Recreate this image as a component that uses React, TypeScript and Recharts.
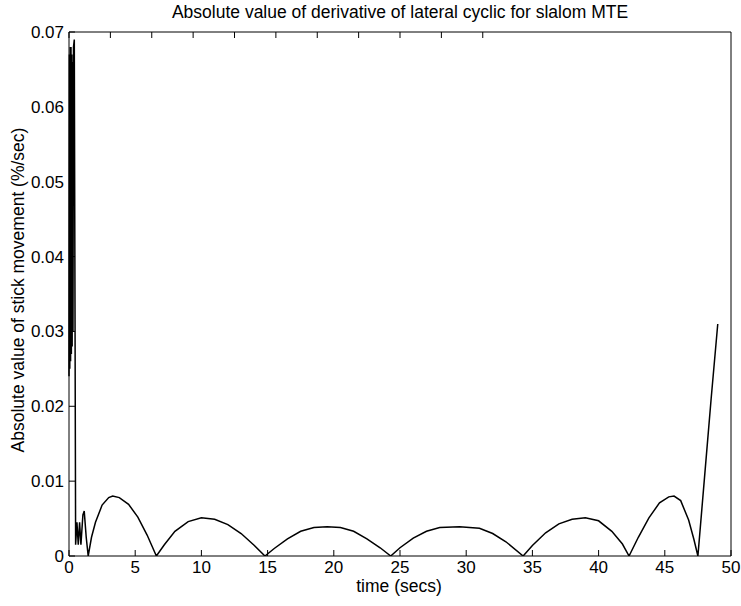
import { Line, LineChart, XAxis, YAxis } from "recharts";

// time (secs) and |d(lateral cyclic)/dt|
const timeSecs = [
  0, 0.03, 0.06, 0.09, 0.12, 0.15, 0.18, 0.21, 0.24, 0.27, 0.3, 0.34, 0.4,
  0.5, 0.6, 0.7, 0.8, 0.9, 1.05, 1.15, 1.3, 1.45,
  1.7, 2.0, 2.5, 3.0, 3.3, 3.8, 4.5, 5.2, 5.9, 6.6,
  7.2, 8, 9, 10, 11, 12, 13, 14, 14.8,
  15.5, 16.5, 17.5, 18.5, 19.5, 20.5, 21.5, 22.5, 23.5, 24.3,
  25, 26, 27, 28, 29.5, 31, 32, 33, 34.3,
  35, 36, 37, 38, 39, 40, 41, 41.8, 42.3,
  43, 43.8, 44.6, 45.3, 45.7, 46.2, 46.8, 47.2, 47.5,
  48, 48.5, 49,
];
const stickRate = [
  0.024, 0.067, 0.025, 0.068, 0.026, 0.068, 0.027, 0.067, 0.028, 0.066, 0.03, 0.068, 0.069,
  0.0015, 0.0045, 0.0015, 0.0045, 0.0015, 0.0055, 0.006, 0.0025, 0,
  0.0025, 0.0045, 0.0068, 0.0078, 0.008, 0.0078, 0.0069, 0.0052, 0.0028, 0,
  0.0015, 0.0033, 0.0046, 0.0051, 0.0049, 0.0042, 0.003, 0.0014, 0,
  0.001, 0.0023, 0.0033, 0.0038, 0.0039, 0.0038, 0.0033, 0.0023, 0.0011, 0,
  0.0011, 0.0024, 0.0033, 0.0038, 0.0039, 0.0037, 0.003, 0.0019, 0,
  0.0014, 0.0031, 0.0043, 0.0049, 0.0051, 0.0047, 0.0033, 0.0016, 0,
  0.0025, 0.0051, 0.0071, 0.0079, 0.008, 0.0074, 0.0048, 0.0022, 0,
  0.0105, 0.021, 0.031,
];
const xTicks = [0, 5, 10, 15, 20, 25, 30, 35, 40, 45, 50];
const yTicks = [0, 0.01, 0.02, 0.03, 0.04, 0.05, 0.06, 0.07];

const data = timeSecs.map((t, i) => ({ t, v: stickRate[i] }));

const font = "'Liberation Sans', Arial, sans-serif";

const BottomTick = (props: any) => {
  const { x, y, payload } = props;
  return (
    <g>
      <line x1={x} y1={y} x2={x} y2={y - 6} stroke="#000" />
      <text x={x} y={y + 5} dy="0.71em" textAnchor="middle" fontSize={17} fontFamily={font} fill="#000">
        {payload.value}
      </text>
    </g>
  );
};

const TopTick = (props: any) => {
  const { x, y } = props;
  return <line x1={x} y1={y} x2={x} y2={y + 6} stroke="#000" />;
};

const LeftTick = (props: any) => {
  const { x, y, payload } = props;
  const label = payload.value === 0 ? "0" : Number(payload.value).toFixed(2);
  return (
    <g>
      <line x1={x} y1={y} x2={x + 6} y2={y} stroke="#000" />
      <text x={x - 5} y={y} dy="0.35em" textAnchor="end" fontSize={17} fontFamily={font} fill="#000">
        {label}
      </text>
    </g>
  );
};

const RightTick = (props: any) => {
  const { x, y } = props;
  return <line x1={x} y1={y} x2={x - 6} y2={y} stroke="#000" />;
};

export default function App() {
  return (
    <div style={{ position: "relative", width: 741, height: 606, background: "#fff" }}>
      <style>{`html, body { margin: 0; padding: 0; overflow: hidden; }`}</style>
      <LineChart
        width={741}
        height={606}
        data={data}
        margin={{ top: 31, right: 9, bottom: 20, left: 0 }}
      >
        <XAxis
          dataKey="t"
          type="number"
          domain={[0, 50]}
          ticks={xTicks}
          interval={0}
          height={30}
          tickSize={0}
          tickMargin={0}
          tickLine={false}
          axisLine={{ stroke: "#000" }}
          tick={<BottomTick />}
        />
        <XAxis
          xAxisId="top"
          orientation="top"
          type="number"
          domain={[0, 50]}
          ticks={xTicks}
          interval={0}
          height={1}
          tickSize={0}
          tickMargin={0}
          tickLine={false}
          axisLine={{ stroke: "#000" }}
          tick={<TopTick />}
        />
        <YAxis
          type="number"
          domain={[0, 0.07]}
          ticks={yTicks}
          interval={0}
          width={69}
          tickSize={0}
          tickMargin={0}
          tickLine={false}
          axisLine={{ stroke: "#000" }}
          tick={<LeftTick />}
          allowDataOverflow
        />
        <YAxis
          yAxisId="right"
          orientation="right"
          type="number"
          domain={[0, 0.07]}
          ticks={yTicks}
          interval={0}
          width={1}
          tickSize={0}
          tickMargin={0}
          tickLine={false}
          axisLine={{ stroke: "#000" }}
          tick={<RightTick />}
        />
        <Line
          dataKey="v"
          type="linear"
          stroke="#000"
          strokeWidth={1.5}
          dot={false}
          isAnimationActive={false}
        />
      </LineChart>
      <div
        style={{
          position: "absolute",
          left: 100,
          width: 600,
          top: 3,
          textAlign: "center",
          fontFamily: font,
          fontSize: 17.5,
          lineHeight: "18px",
          whiteSpace: "nowrap",
          zIndex: 2,
        }}
      >
        Absolute value of derivative of lateral cyclic for slalom MTE
      </div>
      <div
        style={{
          position: "absolute",
          left: 299,
          width: 200,
          top: 577,
          textAlign: "center",
          fontFamily: font,
          fontSize: 17.5,
          lineHeight: "18px",
          zIndex: 2,
        }}
      >
        time (secs)
      </div>
      <div
        style={{
          position: "absolute",
          left: 18 - 200,
          top: 290 - 9,
          width: 400,
          textAlign: "center",
          fontFamily: font,
          fontSize: 17.5,
          lineHeight: "18px",
          transform: "rotate(-90deg)",
          whiteSpace: "nowrap",
          zIndex: 2,
        }}
      >
        Absolute value of stick movement (%/sec)
      </div>
    </div>
  );
}
